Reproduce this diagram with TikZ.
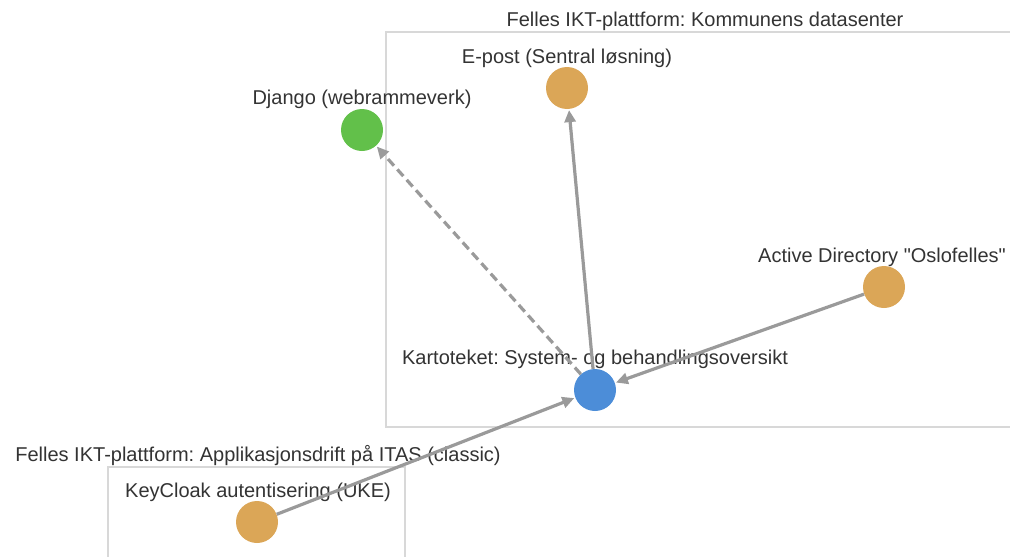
\documentclass[tikz,border=0pt]{standalone}
\usepackage{fontspec}
\setmainfont[Ligatures=TeXOff]{Liberation Sans}
\usetikzlibrary{arrows.meta}
\definecolor{orng}{HTML}{DBA657}
\definecolor{grn}{HTML}{62C04A}
\definecolor{blu}{HTML}{4C8DD8}
\definecolor{edg}{HTML}{9A9A9A}
\definecolor{frm}{HTML}{D8D8D8}
\definecolor{txt}{HTML}{333333}
\frenchspacing
\begin{document}
\begin{tikzpicture}[x=1pt,y=-1pt,
  dot/.style={circle,minimum size=42pt,inner sep=0pt},
  lbl/.style={font=\fontsize{20}{24}\selectfont,text=txt,inner sep=0pt,anchor=base},
  frame/.style={draw=frm,line width=1.5pt},
  conn/.style={draw=edg,line width=3.2pt,-{Triangle[length=12pt,width=11pt]},shorten >=1pt}]
\useasboundingbox (0,0) rectangle (1010,557);
\draw[frame] (1015,32) -- (386,32) -- (386,427) -- (1015,427);
\draw[frame] (108,562) -- (108,467) -- (405,467) -- (405,562);
\node[lbl] (t1) at (705,26) {Felles IKT-plattform: Kommunens datasenter};
\node[lbl] (t2) at (258,461) {Felles IKT-plattform: Applikasjonsdrift på ITAS (classic)};
\node[dot,fill=grn] (dj) at (362,130) {};
\node[dot,fill=orng] (ep) at (567,88) {};
\node[dot,fill=orng] (ad) at (884,287) {};
\node[dot,fill=blu] (ka) at (595,390) {};
\node[dot,fill=orng] (kc) at (257,522) {};
\node[lbl] (ldj) at (362,104) {Django (webrammeverk)};
\node[lbl] (lep) at (567,63) {E-post (Sentral løsning)};
\node[lbl] (lad) at (882,262) {Active Directory "Oslofelles"};
\node[lbl] (lka) at (595,364) {Kartoteket: System- og behandlingsoversikt};
\node[lbl] (lkc) at (258,497) {KeyCloak autentisering (UKE)};
\draw[conn,dashed,dash pattern=on 9pt off 5pt] (ka) -- (dj);
\draw[conn] (ka) -- (ep);
\draw[conn] (ad) -- (ka);
\draw[conn] (kc) -- (ka);
\end{tikzpicture}
\end{document}
